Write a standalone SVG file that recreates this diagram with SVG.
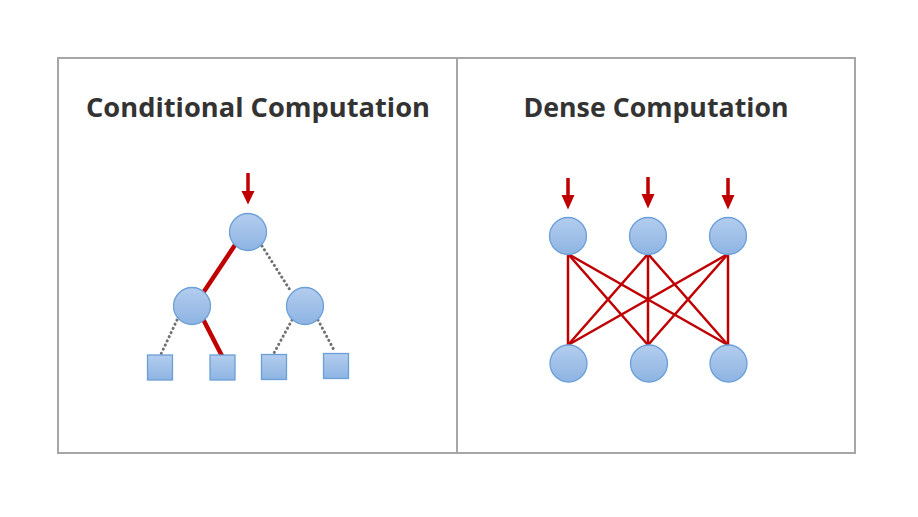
<svg xmlns="http://www.w3.org/2000/svg" width="918" height="517" viewBox="0 0 918 517">
<defs>
<linearGradient id="g" x1="0" y1="0" x2="0" y2="1">
<stop offset="0" stop-color="#b3cdee"/>
<stop offset="1" stop-color="#8eb4e3"/>
</linearGradient>
</defs>
<style>
.frame{fill:#fff;stroke:#a6a6a6;stroke-width:2}
.title{font-family:"Open Sans","Liberation Sans",sans-serif;font-weight:bold;font-size:27px;fill:#333333;text-anchor:middle}
.n{fill:url(#g);stroke:#6a9fd8;stroke-width:1.3}
.red{stroke:#c00000;stroke-width:4.5;fill:none;stroke-linecap:butt}
.thin{stroke:#c00000;stroke-width:2.5;fill:none}
.dot{stroke:#707070;stroke-width:3;stroke-dasharray:0.1 4.5;stroke-linecap:round;fill:none}
</style>
<rect width="918" height="517" fill="#fff"/>
<rect class="frame" x="58" y="58" width="797" height="395"/>
<line x1="457" y1="58" x2="457" y2="453" stroke="#a6a6a6" stroke-width="2"/>
<text class="title" x="258" y="116.5" textLength="344" lengthAdjust="spacingAndGlyphs">Conditional Computation</text>
<text class="title" x="656" y="116.5" textLength="265" lengthAdjust="spacingAndGlyphs">Dense Computation</text>
<g id="connectors">
<path d="M248,173 V192" stroke="#c00000" stroke-width="3.5"/>
<path d="M241.5,191 H254.5 L248,204.5 z" fill="#c00000"/>
<line class="red" x1="235" y1="245" x2="203" y2="293"/>
<line class="red" x1="203" y1="319" x2="222" y2="356"/>
<line class="dot" x1="262" y1="246" x2="290" y2="290"/>
<line class="dot" x1="177" y1="320" x2="161" y2="354"/>
<line class="dot" x1="292" y1="320" x2="274" y2="353"/>
<line class="dot" x1="318" y1="320" x2="335" y2="352"/>
<path d="M568,178 V196 M648,177 V195 M728,178 V196" stroke="#c00000" stroke-width="3.5"/>
<path d="M561.5,195 H574.5 L568,209.5 z M641.5,194 H654.5 L648,208.5 z M721.5,195 H734.5 L728,209.5 z" fill="#c00000"/>
<g class="thin">
<line x1="568" y1="254" x2="568" y2="345"/>
<line x1="568" y1="254" x2="648" y2="345"/>
<line x1="568" y1="254" x2="728" y2="345"/>
<line x1="648" y1="254" x2="568" y2="345"/>
<line x1="648" y1="254" x2="648" y2="345"/>
<line x1="648" y1="254" x2="728" y2="345"/>
<line x1="728" y1="254" x2="568" y2="345"/>
<line x1="728" y1="254" x2="648" y2="345"/>
<line x1="728" y1="254" x2="728" y2="345"/>
</g>
</g>
<g id="root"><circle class="n" cx="248" cy="232" r="18.5"/></g>
<g id="left-child"><circle class="n" cx="192" cy="306" r="18.5"/></g>
<g id="right-child"><circle class="n" cx="305" cy="306" r="18.5"/></g>
<g id="leaf1"><rect class="n" x="147.5" y="355" width="25" height="25"/></g>
<g id="leaf2"><rect class="n" x="210" y="355" width="25" height="25"/></g>
<g id="leaf3"><rect class="n" x="261.5" y="354.5" width="25" height="25"/></g>
<g id="leaf4"><rect class="n" x="323.5" y="353.5" width="25" height="25"/></g>
<g id="top1"><circle class="n" cx="568" cy="236" r="18.5"/></g>
<g id="top2"><circle class="n" cx="648" cy="236" r="18.5"/></g>
<g id="top3"><circle class="n" cx="728" cy="236" r="18.5"/></g>
<g id="bot1"><circle class="n" cx="568.5" cy="363.5" r="18.5"/></g>
<g id="bot2"><circle class="n" cx="649" cy="363.5" r="18.5"/></g>
<g id="bot3"><circle class="n" cx="728.5" cy="363.5" r="18.5"/></g>
</svg>
